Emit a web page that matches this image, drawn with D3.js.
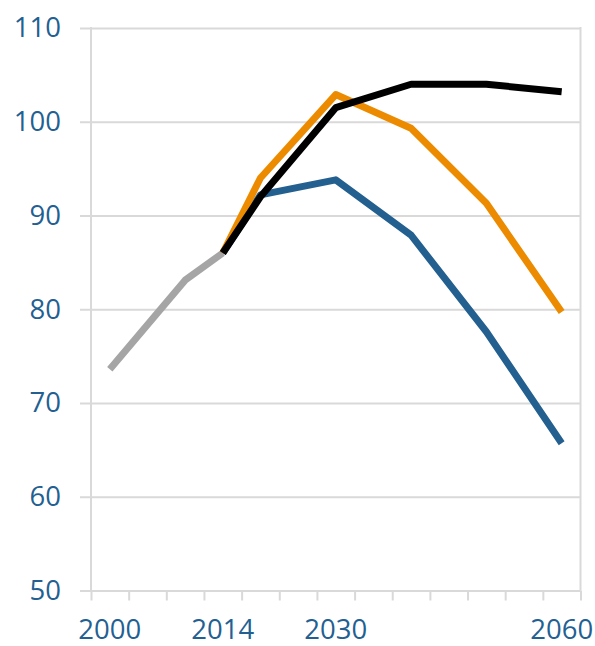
<!DOCTYPE html>
<html>
<head>
<meta charset="utf-8">
<script src="https://cdn.jsdelivr.net/npm/d3@7/dist/d3.min.js"></script>
<style>
  html, body { margin: 0; padding: 0; background: #fff; }
  svg { display: block; }
  .lbl text { font-family: "Open Sans", sans-serif; font-size: 27.5px; fill: #245f92; }
</style>
</head>
<body>
<svg id="chart" width="595" height="646"></svg>
<script>
// Categories (13 slots) and the labels shown under them
const categories = ["2000","2005","2010","2014","2020","2025","2030","2035","2040","2045","2050","2055","2060"];
const tickLabels = ["2000","","","2014","","","2030","","","","","","2060"];
const yTicks = [50, 60, 70, 80, 90, 100, 110];

// Series values (null = no point)
const history  = [73.6, null, 83.1, 86.0, null, null, null, null, null, null, null, null, null];
const blueLow  = [null, null, null, 86.0, 92.2, null, 93.8, null, 87.9, null, 77.6, null, 65.7];
const orangeMid= [null, null, null, 86.0, 94.0, null, 102.9, null, 99.3, null, 91.3, null, 79.7];
const blackHigh= [null, null, null, 86.0, 92.0, null, 101.5, null, 104.0, null, 104.0, null, 103.2];

const series = [
  { name: "history", values: history,   color: "#a5a5a5" },
  { name: "low",     values: blueLow,   color: "#235f8f" },
  { name: "mid",     values: orangeMid, color: "#ec8b00" },
  { name: "high",    values: blackHigh, color: "#000000" }
];

const svg = d3.select("#chart");
const mLeft = 91, mRight = 580.5, mTop = 28, mBottom = 590.5;

const x = d3.scaleBand().domain(categories).range([mLeft, mRight]).padding(0);
const xb = d3.scaleLinear().domain([0, categories.length]).range([mLeft, mRight]);
const y = d3.scaleLinear().domain([50, 110]).range([mBottom, mTop]);

const gridColor = "#d9d9d9";

// Horizontal gridlines + outside ticks
const gy = svg.append("g").attr("class", "lbl").attr("transform", `translate(${mLeft},0)`)
  .call(d3.axisLeft(y).tickValues(yTicks).tickSize(11).tickPadding(19).tickFormat(d3.format("d")));
gy.select(".domain").remove();
gy.selectAll(".tick line").attr("x1", -11).attr("x2", mRight - mLeft)
  .attr("stroke", gridColor).attr("stroke-width", 2);

// Vertical border lines
[mLeft, mRight].forEach(px => {
  svg.append("line").attr("x1", px).attr("x2", px).attr("y1", y(110) - 1).attr("y2", mBottom)
    .attr("stroke", gridColor).attr("stroke-width", 2);
});

// Category boundary tick marks
const gxb = svg.append("g").attr("transform", `translate(0,${mBottom})`)
  .call(d3.axisBottom(xb).tickValues(d3.range(categories.length + 1)).tickSize(10).tickFormat(""));
gxb.select(".domain").remove();
gxb.selectAll(".tick line").attr("stroke", gridColor).attr("stroke-width", 2);

// Category labels
const gx = svg.append("g").attr("class", "lbl").attr("transform", `translate(0,${mBottom})`)
  .call(d3.axisBottom(x).tickSize(0).tickPadding(29).tickFormat((d, i) => tickLabels[i]));
gx.select(".domain").remove();

// Lines
const line = d3.line()
  .x(d => x(d.cat) + x.bandwidth() / 2)
  .y(d => y(d.v));

series.forEach(s => {
  const pts = categories.map((c, i) => ({ cat: c, v: s.values[i] })).filter(d => d.v !== null);
  svg.append("path").datum(pts)
    .attr("d", line)
    .attr("fill", "none")
    .attr("stroke", s.color)
    .attr("stroke-width", 7)
    .attr("stroke-linejoin", "round")
    .attr("stroke-linecap", "butt");
});
</script>
</body>
</html>
